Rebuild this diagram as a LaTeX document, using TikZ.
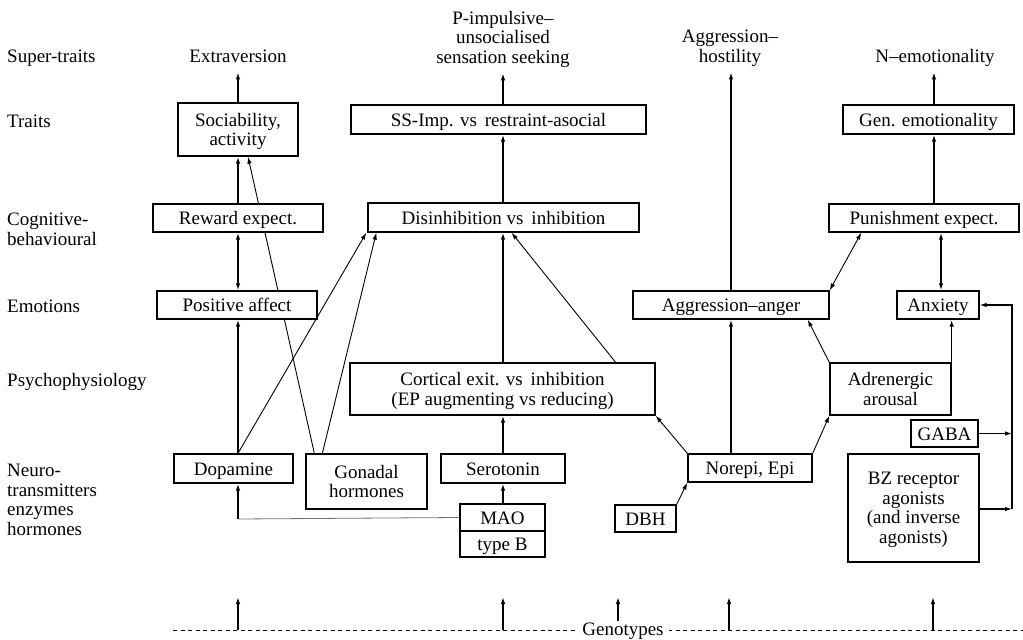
\documentclass[tikz,border=0pt]{standalone}
\usepackage{fontspec}
\setmainfont{Liberation Serif}
\usetikzlibrary{arrows.meta,calc,backgrounds}
\begin{document}
\begin{tikzpicture}[x=1pt,y=-1pt,
  lbl/.style={font=\fontsize{19}{19.5}\selectfont, inner sep=0pt},
  box/.style={lbl, draw, line width=1.3pt, fill=white, align=center, text depth=0pt},
  one/.style={box, text height=13pt},
  tip/.style={-{Latex[length=7pt,width=4.5pt]}},
  dtip/.style={{Latex[length=7pt,width=4.5pt]}-{Latex[length=7pt,width=4.5pt]}},
  thick arrow/.style={tip, line width=1.6pt},
  thin arrow/.style={tip, line width=0.9pt},
  faint/.style={line width=0.8pt, black!55}]

\useasboundingbox (0,0) rectangle (1023,640);

% level labels on the left
\node[lbl, anchor=base west] (rSuper) at (7,62) {Super-traits};
\node[lbl, anchor=base west] (rTraits) at (7,127) {Traits};
\node[lbl, anchor=base west, align=left] (rCog) at (7,245) {Cognitive-\\behavioural};
\node[lbl, anchor=base west] (rEmo) at (7,312) {Emotions};
\node[lbl, anchor=base west] (rPsy) at (7,386) {Psychophysiology};
\node[lbl, anchor=base west, align=left] (rNeuro) at (7,535) {Neuro-\\transmitters\\enzymes\\hormones};

% super-traits
\node[lbl, anchor=base] (ext) at (238,62) {Extraversion};
\node[lbl, anchor=base, align=center] (pimp) at (503,63) {P-impulsive–\\unsocialised\\sensation seeking};
\node[lbl, anchor=base, align=center] (agghost) at (730,62) {Aggression–\\hostility};
\node[lbl, anchor=base] (nemo) at (935,62) {N–emotionality};

% column guides
\coordinate (cA) at (238,0);
\coordinate (cB) at (503,0);
\coordinate (cC) at (731,0);
\coordinate (cD) at (934,0);
\coordinate (cE) at (941,0);
\coordinate (bus) at (1012,0);

% traits
\node[box, minimum width=120pt, minimum height=53pt] (soc) at (238,129.5) {Sociability,\\activity};
\node[one, minimum width=295pt, minimum height=29pt] (ssimp) at (498.5,119.5) {SS-Imp. vs\, restraint-asocial};
\node[one, minimum width=171pt, minimum height=29pt] (genemo) at (928.5,119.5) {Gen. emotionality};

% cognitive-behavioural
\node[one, minimum width=170pt, minimum height=28pt] (reward) at (238,218) {Reward expect.};
\node[one, minimum width=271pt, minimum height=29pt] (disinh) at (503.5,217.5) {Disinhibition vs\, inhibition};
\node[one, minimum width=190pt, minimum height=28pt] (punish) at (924,218) {Punishment expect.};

% emotions
\node[one, minimum width=160pt, minimum height=28pt] (posaff) at (237,305) {Positive affect};
\node[one, minimum width=196pt, minimum height=28pt] (agg) at (731,305) {Aggression–anger};
\node[one, minimum width=82pt, minimum height=28pt] (anx) at (938,305) {Anxiety};

% psychophysiology
\node[box, minimum width=305pt, minimum height=52pt] (cortical) at (502.5,389) {Cortical exit. vs\, inhibition\\(EP augmenting vs reducing)};
\node[box, minimum width=121pt, minimum height=52pt] (adren) at (890.5,389) {Adrenergic\\arousal};

% neurotransmitters, enzymes, hormones
\node[one, minimum width=67pt, minimum height=27pt] (gaba) at (944.5,433.5) {GABA};
\node[one, minimum width=119pt, minimum height=29pt] (dopa) at (233.5,468.5) {Dopamine};
\node[box, minimum width=121pt, minimum height=55pt] (gonadal) at (366.5,481.5) {Gonadal\\hormones};
\node[one, minimum width=124pt, minimum height=29pt] (sero) at (503,468.5) {Serotonin};
\node[one, minimum width=124pt, minimum height=28pt] (norepi) at (750,468) {Norepi, Epi};
\node[box, minimum width=131pt, minimum height=108pt] (bz) at (913.5,508) {BZ receptor\\agonists\\(and inverse\\agonists)};
\node[one, minimum width=85pt, minimum height=27pt] (mao) at (502.5,517.5) {MAO};
\node[one, minimum width=85pt, minimum height=26pt] (typeb) at (502.5,544) {type B};
\node[one, minimum width=61pt, minimum height=27pt] (dbh) at (645.5,518.5) {DBH};

% genotype baseline
\node[lbl, fill=white, inner xsep=5pt, inner ysep=1pt, anchor=base] (geno) at (623,635) {Genotypes};

\coordinate (maoturn) at (238,519);
\coordinate (g1) at (238,630); \coordinate (t1) at (238,597);
\coordinate (g2) at (503,630); \coordinate (t2) at (503,597);
\coordinate (g3) at (618,630); \coordinate (t3) at (618,597);
\coordinate (g4) at (729,630); \coordinate (t4) at (729,597);
\coordinate (g5) at (933,630); \coordinate (t5) at (933,597);
\coordinate (gl) at (173,630);
\coordinate (gr) at (1023,630);
\coordinate (gabain) at (1012,433.5);
\coordinate (bzin) at (1012,509);

\begin{pgfonlayer}{background}
  \fill[white] (0,0) rectangle (1023,640);

  % extraversion column
  \draw[thick arrow, shorten >=10pt] (soc.north -| cA) -- (ext.south -| cA);
  \draw[thick arrow] (reward.north -| cA) -- (soc.south -| cA);
  \draw[thin arrow] ($(gonadal.north west)+(9,0)$) -- ($(soc.south)+(10,0)$);
  \draw[dtip, line width=1.6pt] (reward.south -| cA) -- (posaff.north -| cA);
  \draw[thick arrow] (dopa.north -| cA) -- (posaff.south -| cA);
  \draw[thin arrow] (dopa.north -| cA) -- ($(disinh.south west)+(-1,0)$);
  \draw[thin arrow] ($(gonadal.north west)+(17,0)$) -- ($(disinh.south west)+(9,0)$);
  \draw[faint] (mao.west) -- (maoturn);
  \draw[thick arrow] (maoturn) -- (dopa.south -| cA);

  % P column
  \draw[thick arrow] (mao.north -| cB) -- (sero.south -| cB);
  \draw[thick arrow] (sero.north -| cB) -- (cortical.south -| cB);
  \draw[thick arrow] (cortical.north -| cB) -- (disinh.south -| cB);
  \draw[thin arrow] ($(cortical.north east)+(-40,0)$) -- ($(disinh.south)+(8,0)$);
  \draw[thick arrow] (disinh.north -| cB) -- (ssimp.south -| cB);
  \draw[thick arrow, shorten >=6pt] (ssimp.north -| cB) -- (pimp.south -| cB);

  % aggression column
  \draw[thin arrow] (norepi.north west) -- (cortical.south east);
  \draw[thin arrow] (norepi.north east) -- (adren.south west);
  \draw[thin arrow] (dbh.north east) -- (norepi.south west);
  \draw[thick arrow] (norepi.north -| cC) -- (agg.south -| cC);
  \draw[thick arrow, shorten >=6pt] (agg.north -| cC) -- (agghost.south -| cC);
  \draw[thin arrow] (adren.north west) -- ($(agg.south east)+(-22,0)$);

  % emotionality column
  \draw[thick arrow] (adren.north east) -- (anx.south -| adren.north east);
  \draw[dtip, line width=1.6pt] (punish.south -| cE) -- (anx.north -| cE);
  \draw[dtip, line width=0.9pt] ($(punish.south west)+(33,0)$) -- (agg.north east);
  \draw[thick arrow] (punish.north -| cD) -- (genemo.south -| cD);
  \draw[thick arrow, shorten >=6pt] (genemo.north -| cD) -- (nemo.south -| cD);

  % GABA / BZ feedback to anxiety
  \draw[thin arrow, line width=1.1pt] (gaba.east) -- (gabain);
  \draw[thin arrow, line width=1.1pt] (bz.east |- bzin) -- (bzin);
  \draw[thin arrow, line width=1.1pt] (bzin) -- (bus |- anx.east) -- (anx.east);

  % genotypes
  \draw[line width=1pt, dash pattern=on 4pt off 3.5pt] (gl) -- (gr);
  \foreach \i in {1,...,5} {
    \draw[thick arrow] (g\i) -- (t\i);
  }
\end{pgfonlayer}
\end{tikzpicture}
\end{document}
